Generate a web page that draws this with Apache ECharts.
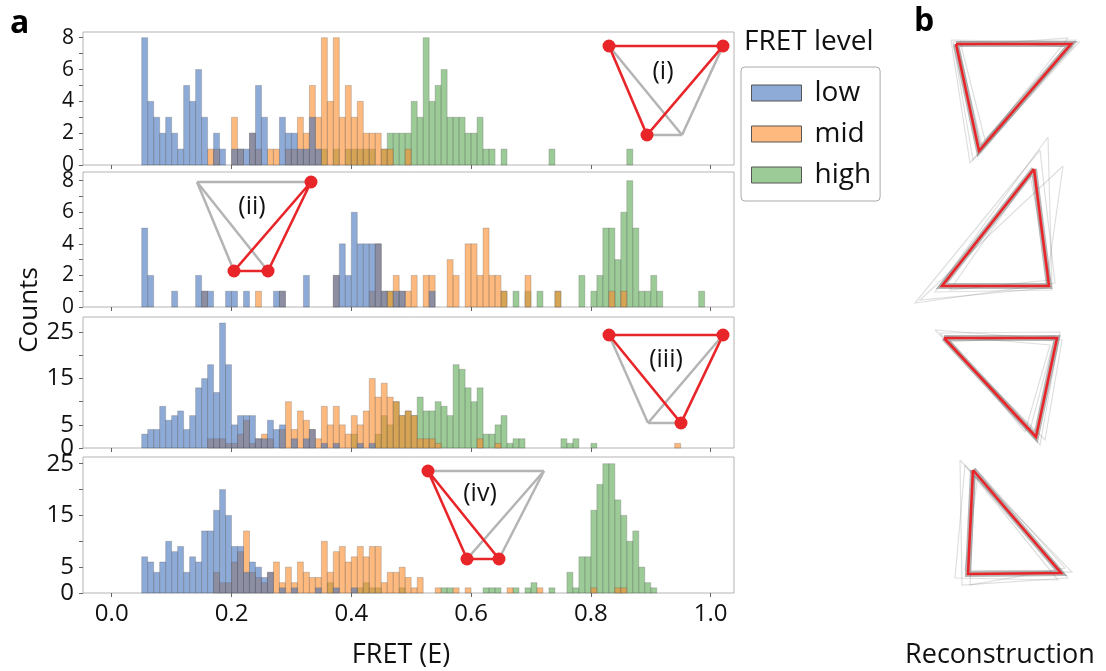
<!DOCTYPE html>
<html>
<head>
<meta charset="utf-8">
<script src="https://cdn.jsdelivr.net/npm/echarts@6/dist/echarts.min.js"></script>
<style>
  html, body { margin: 0; padding: 0; background: #fff; }
  #chart { width: 1106px; height: 671px; }
</style>
</head>
<body>
<div id="chart"></div>
<script>
// bins: 0.01 wide, left edges from 0.05 to 0.99
var BIN_W = 0.01;
var bins = [];
for (var b = 0; b < 95; b++) bins.push(+(0.05 + b * BIN_W).toFixed(2));

// panel (i)
var p1Low  = [8,4,3,2,3,2,1,5,4,6, 3,0,2,1,0,1,1,1,2,5, 3,0,0,3,2,2,1,1,3,1, 0,0,0,0,0,0,0,0,0,0, 0,0,0,0,0,0,0,0,0,0, 0,0,0,0,0,0,0,0,0,0, 0,0,0,0,0,0,0,0,0,0, 0,0,0,0,0,0,0,0,0,0, 0,0,0,0,0,0,0,0,0,0, 0,0,0,0,0];
var p1Mid  = [0,0,0,0,0,0,0,0,0,0, 0,1,1,0,0,3,1,0,2,1, 0,1,1,0,1,1,3,2,5,3, 8,4,8,3,5,3,4,2,2,2, 1,1,0,0,1,0,0,0,0,0, 0,0,0,0,0,0,0,0,0,0, 0,0,0,0,0,0,0,0,0,0, 0,0,0,0,0,0,0,0,0,0, 0,0,0,0,0,0,0,0,0,0, 0,0,0,0,0];
var p1High = [0,0,0,0,0,0,0,0,0,0, 0,0,0,0,0,0,0,0,0,0, 0,0,0,0,0,0,0,0,0,0, 1,0,1,0,1,1,1,1,1,0, 1,2,2,2,2,4,3,8,4,5, 6,3,3,3,2,2,3,1,1,0, 1,0,0,0,0,0,0,0,1,0, 0,0,0,0,0,0,0,0,0,0, 0,1,0,0,0,0,0,0,0,0, 0,0,0,0,0];
// panel (ii)
var p2Low  = [5,2,0,0,0,1,0,0,0,2, 1,1,0,0,1,1,0,1,0,0, 0,0,1,1,0,0,0,2,0,0, 0,0,2,4,2,6,4,4,4,4, 1,0,1,1,0,0,0,0,1,0, 0,0,0,0,0,0,0,0,0,0, 0,0,0,0,0,0,0,0,0,0, 0,0,0,0,0,0,0,0,0,0, 0,0,0,0,0,0,0,0,0,0, 0,0,0,0,0];
var p2Mid  = [0,0,0,0,0,0,0,0,0,0, 1,0,0,0,0,0,0,0,0,1, 0,0,0,1,0,0,0,0,0,0, 0,0,2,0,0,0,0,0,1,4, 1,1,2,1,1,2,0,2,2,0, 0,3,2,0,4,4,2,5,2,2, 1,0,0,0,2,0,0,0,0,1, 0,0,0,0,0,0,0,0,1,0, 1,0,0,0,0,0,0,0,0,0, 0,0,0,0,0];
var p2High = [0,0,0,0,0,0,0,0,0,0, 0,0,0,0,0,0,0,0,0,0, 0,0,0,0,0,0,0,0,0,0, 0,0,0,0,0,0,0,0,0,0, 0,1,0,0,0,0,0,0,0,0, 0,0,0,0,0,0,0,0,0,0, 1,0,1,0,1,0,1,0,0,1, 0,0,0,2,0,1,2,5,5,3, 6,8,5,1,1,2,1,0,0,0, 0,0,0,1,0];
// panel (iii)
var p3Low  = [3,4,4,9,6,7,8,4,7,13, 15,18,12,27,18,5,7,7,7,2, 2,6,4,5,0,2,0,2,4,0, 1,0,1,0,0,0,1,0,1,0, 0,0,0,0,0,0,0,0,0,0, 0,0,0,0,0,0,0,0,0,0, 0,0,0,0,0,0,0,0,0,0, 0,0,0,0,0,0,0,0,0,0, 0,0,0,0,0,0,0,0,0,0, 0,0,0,0,0];
var p3Mid  = [0,0,0,0,0,0,0,0,0,0, 0,2,2,2,1,1,3,6,1,2, 3,2,0,4,10,4,8,6,4,2, 9,5,9,5,3,7,5,8,15,11, 14,11,10,7,8,7,2,2,2,1, 0,0,0,0,0,0,2,0,0,1, 0,0,0,0,0,0,0,0,0,0, 0,0,0,0,0,0,0,0,0,0, 0,0,0,0,0,0,0,0,0,1, 0,0,0,0,0];
var p3High = [0,0,0,0,0,0,0,0,0,0, 0,0,0,0,0,0,0,0,0,0, 0,0,0,0,0,0,0,0,0,0, 0,0,0,0,0,3,0,0,0,3, 7,5,10,7,8,7,11,8,8,10, 9,7,18,17,13,10,13,3,3,5, 7,1,2,2,0,0,0,0,0,0, 2,1,2,0,0,1,0,0,0,0, 0,0,0,0,0,0,0,0,0,0, 0,0,0,0,0];
// panel (iv)
var p4Low  = [7,6,4,6,10,8,9,4,7,6, 12,12,16,20,15,9,9,4,6,5, 3,4,0,1,0,1,0,0,0,1, 0,0,1,0,0,1,0,0,0,0, 0,0,0,0,0,0,0,0,0,0, 0,0,0,0,0,0,0,0,0,0, 0,0,0,0,0,0,0,0,0,0, 0,0,0,0,0,0,0,0,0,0, 0,0,0,0,0,0,0,0,0,0, 0,0,0,0,0];
var p4Mid  = [0,0,0,0,0,0,0,0,0,0, 0,0,4,2,2,6,8,12,4,3, 2,4,6,2,5,2,6,4,3,3, 10,4,8,9,6,7,9,7,9,9, 2,4,4,5,3,1,3,0,0,1, 0,0,1,0,1,0,0,0,0,0, 0,1,0,0,0,0,1,0,0,0, 0,0,0,0,0,1,0,0,0,1, 1,0,0,0,0,0,0,0,0,0, 0,0,0,0,0];
var p4High = [0,0,0,0,0,0,0,0,0,0, 0,0,0,0,0,0,0,0,0,0, 0,0,0,0,0,0,0,0,0,0, 0,2,0,0,0,0,1,2,1,1, 0,0,0,1,0,0,0,0,0,0, 1,1,0,0,0,0,0,1,1,1, 0,0,1,0,1,2,0,0,1,0, 0,4,1,7,7,16,21,25,25,18, 15,10,12,5,2,1,0,0,0,0, 0,0,0,0,0];

var panels = [
  { low: p1Low, mid: p1Mid, high: p1High },
  { low: p2Low, mid: p2Mid, high: p2High },
  { low: p3Low, mid: p3Mid, high: p3High },
  { low: p4Low, mid: p4Mid, high: p4High }
];

// axes
var xTicks = [0, 0.2, 0.4, 0.6, 0.8, 1.0];
var yMaxes = [8.36, 8.55, 28.3, 26.3];
var yTicks = [[0,1,2,3,4,5,6,7,8], [0,1,2,3,4,5,6,7,8], [0,5,10,15,20,25], [0,5,10,15,20,25]];
var yLabels = [[0,2,4,6,8], [0,2,4,6,8], [5,15,25], [5,15,25]];
var yZeroLabel = [0];
var levels = ['low', 'mid', 'high'];

// inset and reconstruction sketches (page pixels)
var grayPaths = [
  [[609,46],[682,135]], [[723,46],[682,135]], [[647,135],[682,135]],
  [[197,182],[311,182]], [[197,182],[234,271]], [[197,182],[268,271]],
  [[609,335],[648,423]], [[723,335],[648,423]], [[681,423],[648,423]],
  [[428,471],[544,471]], [[544,471],[467,559]], [[544,471],[499,559]]
];
var redPaths = [
  [[609,46],[723,46],[647,135],[609,46]],
  [[311,182],[234,271],[268,271],[311,182]],
  [[609,335],[723,335],[681,423],[609,335]],
  [[428,471],[467,559],[499,559],[428,471]]
];
var dots = [
  [609,46],[723,46],[647,135],
  [311,182],[234,271],[268,271],
  [609,335],[723,335],[681,423],
  [428,471],[467,559],[499,559]
];
var insetText = [['(i)',663,72], ['(ii)',252,207], ['(iii)',666,360], ['(iv)',480,494]];

var reconRed = [
  [[956,44],[1071,44],[979,151],[956,44]],
  [[1034,169],[1049,286],[942,286],[1034,169]],
  [[944,338],[1057,338],[1036,437],[944,338]],
  [[973,470],[1061,573],[968,574],[973,470]]
];
var reconSpread = [
  [[953,42],[1076,40],[973,160],[953,42]], [[958,46],[1068,38],[982,146],[958,46]],
  [[951,40],[1079,42],[970,163],[951,40]], [[960,41],[1073,47],[985,140],[960,41]],
  [[1048,137],[1052,290],[935,292],[1048,137]], [[1063,166],[1046,288],[920,300],[1063,166]],
  [[1040,150],[1055,283],[915,303],[1040,150]], [[1030,175],[1050,280],[950,290],[1030,175]],
  [[940,333],[1060,332],[1040,445],[940,333]], [[948,342],[1055,336],[1030,430],[948,342]],
  [[935,330],[1062,340],[1045,440],[935,330]], [[946,336],[1050,345],[1025,432],[946,336]],
  [[960,460],[1068,578],[962,585],[960,460]], [[978,475],[1072,572],[965,570],[978,475]],
  [[965,465],[1058,580],[955,578],[965,465]], [[975,468],[1065,568],[970,585],[975,468]]
];

var FONT = '"Open Sans", "Noto Sans", sans-serif';
var fills = { low: 'rgba(67,113,187,0.6)', mid: 'rgba(252,138,40,0.6)', high: 'rgba(90,168,83,0.6)' };
var EDGE = 'rgba(90,90,90,0.35)';

var gridTops = [32, 172, 317, 457];
var gridHeights = [133, 135, 131, 136];

var myChart = echarts.init(document.getElementById('chart'));

function barItem(params, api) {
  var x0 = api.value(0);
  var h = api.value(1);
  var p0 = api.coord([x0, 0]);
  var p1 = api.coord([x0 + BIN_W, h]);
  return {
    type: 'rect',
    shape: { x: p0[0], y: p1[1], width: p1[0] - p0[0], height: p0[1] - p1[1] },
    style: { fill: api.visual('color'), stroke: EDGE, lineWidth: 0.8 }
  };
}

function yLabelStyle(i, values) {
  return { customValues: values, fontSize: i < 2 ? 21 : 24, lineHeight: i < 2 ? 14 : 17, color: '#111', margin: 9,
    fontFamily: FONT, showMinLabel: true, showMaxLabel: true, hideOverlap: false };
}

var grids = [], xAxes = [], yAxes = [], series = [], extraY = [];
for (var i = 0; i < 4; i++) {
  grids.push({ left: 83, width: 651, top: gridTops[i], height: gridHeights[i], show: true, borderColor: '#b4b4b4', borderWidth: 1 });
  xAxes.push({
    gridIndex: i, type: 'value', min: -0.048, max: 1.039,
    axisLine: { show: false, onZero: false }, splitLine: { show: false },
    axisTick: { show: true, customValues: xTicks, length: 4, lineStyle: { color: '#666' } },
    axisLabel: { show: i === 3, customValues: xTicks, formatter: function (v) { return v.toFixed(1); },
      fontSize: 24, color: '#111', margin: 9, fontFamily: FONT, showMinLabel: true, showMaxLabel: true }
  });
  yAxes.push({
    gridIndex: i, type: 'value', min: 0, max: yMaxes[i],
    axisLine: { show: false, onZero: false }, splitLine: { show: false },
    axisTick: { show: true, customValues: yTicks[i], length: 4, lineStyle: { color: '#666' } },
    axisLabel: yLabelStyle(i, yLabels[i])
  });
  if (i >= 2) {
    // zero label on its own axis so it is not hidden by the crowded 5 label
    extraY.push({
      gridIndex: i, type: 'value', min: 0, max: yMaxes[i], position: 'left',
      axisLine: { show: false, onZero: false }, splitLine: { show: false }, axisTick: { show: false },
      axisLabel: yLabelStyle(i, yZeroLabel)
    });
  }
  // drawn high first so that mid and low lie on top
  ['high', 'mid', 'low'].forEach(function (lv) {
    var counts = panels[i][lv];
    series.push({
      name: lv, type: 'custom', xAxisIndex: i, yAxisIndex: i,
      renderItem: barItem,
      itemStyle: { color: fills[lv], borderColor: '#555', borderWidth: 1 },
      data: bins.map(function (x, k) { return [x, counts[k]]; }).filter(function (d) { return d[1] > 0; }),
      silent: true, z: 2
    });
  });
}

// overlay grid in page pixels for sketches
grids.push({ left: 0, top: 0, width: 1106, height: 671, show: false });
xAxes.push({ gridIndex: 4, type: 'value', min: 0, max: 1106, show: false });
yAxes.push({ gridIndex: 4, type: 'value', min: 0, max: 671, inverse: true, show: false });
yAxes = yAxes.concat(extraY);

series.push({
  type: 'lines', coordinateSystem: 'cartesian2d', xAxisIndex: 4, yAxisIndex: 4, polyline: true, silent: true, z: 5,
  data: reconSpread.map(function (p) { return { coords: p }; }),
  lineStyle: { color: 'rgb(110,110,110)', width: 1.2, opacity: 0.22 }
});
series.push({
  type: 'lines', coordinateSystem: 'cartesian2d', xAxisIndex: 4, yAxisIndex: 4, polyline: true, silent: true, z: 5,
  data: reconRed.map(function (p) { return { coords: p }; }),
  lineStyle: { color: 'rgb(95,95,95)', width: 6, opacity: 0.45 }
});
series.push({
  type: 'lines', coordinateSystem: 'cartesian2d', xAxisIndex: 4, yAxisIndex: 4, polyline: true, silent: true, z: 6,
  data: grayPaths.map(function (p) { return { coords: p }; }),
  lineStyle: { color: '#b4b4b4', width: 2.5, opacity: 1 }
});
series.push({
  type: 'lines', coordinateSystem: 'cartesian2d', xAxisIndex: 4, yAxisIndex: 4, polyline: true, silent: true, z: 7,
  data: redPaths.concat(reconRed).map(function (p) { return { coords: p }; }),
  lineStyle: { color: '#e8262a', width: 2.6, opacity: 1 }
});
series.push({
  type: 'scatter', xAxisIndex: 4, yAxisIndex: 4, silent: true, z: 8,
  data: dots, symbolSize: 13, itemStyle: { color: '#e8262a', opacity: 1 }
});

var graphics = [
  { type: 'text', left: 10, top: 8, style: { text: 'a', font: 'bold 32px ' + FONT, fill: '#000' } },
  { type: 'text', left: 914, top: 6, style: { text: 'b', font: 'bold 32px ' + FONT, fill: '#000' } },
  { type: 'text', x: 30, y: 310, rotation: Math.PI / 2, style: { text: 'Counts', font: '26px ' + FONT, fill: '#111', align: 'center', verticalAlign: 'middle' } },
  { type: 'text', x: 401, y: 655, style: { text: 'FRET (E)', font: '27px ' + FONT, fill: '#111', align: 'center', verticalAlign: 'middle' } },
  { type: 'text', x: 1000, y: 655, style: { text: 'Reconstruction', font: '27px ' + FONT, fill: '#111', align: 'center', verticalAlign: 'middle' } },
  { type: 'text', x: 744, y: 42, style: { text: 'FRET level', font: '28px ' + FONT, fill: '#111', align: 'left', verticalAlign: 'middle' } }
];
insetText.forEach(function (t) {
  graphics.push({ type: 'text', x: t[1], y: t[2], z: 10, style: { text: t[0], font: '25px ' + FONT, fill: '#111', align: 'center', verticalAlign: 'middle' } });
});

var option = {
  animation: false,
  backgroundColor: '#fff',
  grid: grids,
  xAxis: xAxes,
  yAxis: yAxes,
  legend: {
    data: levels, orient: 'vertical', left: 741, top: 67,
    padding: [12, 9, 12, 10], itemGap: 13, itemWidth: 50, itemHeight: 16,
    borderColor: '#aaa', borderWidth: 1, borderRadius: 4, backgroundColor: '#fff',
    icon: 'rect',
    itemStyle: { borderColor: '#555', borderWidth: 1 },
    textStyle: { fontSize: 28, lineHeight: 26, color: '#111', fontFamily: FONT, padding: [0, 0, 0, 8] },
    selectedMode: false
  },
  graphic: graphics,
  series: series
};
myChart.setOption(option);
</script>
</body>
</html>
